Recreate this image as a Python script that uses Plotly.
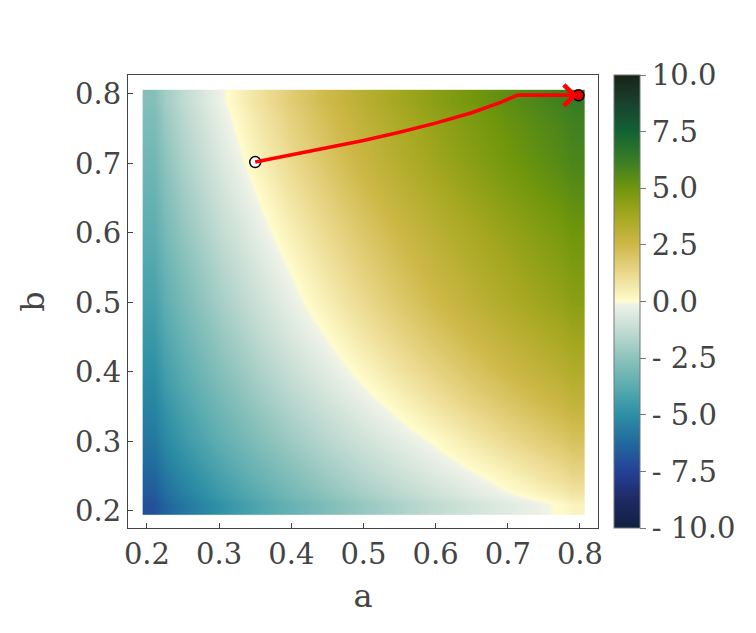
import numpy as np
import plotly.graph_objects as go

# ---- data ----
a_vals = [0.20, 0.25, 0.30, 0.35, 0.40, 0.45, 0.50, 0.55, 0.60, 0.65, 0.70, 0.75, 0.80]
b_vals = [0.20, 0.25, 0.30, 0.35, 0.40, 0.45, 0.50, 0.55, 0.60, 0.65, 0.70, 0.75, 0.80]

z_b020 = [-7.0, -5.84, -4.89, -4.09, -3.40, -2.79, -2.24, -1.75, -1.30, -0.88, -0.50, -0.14, 0.3]
z_b025 = [-6.4, -5.22, -4.25, -3.44, -2.73, -2.11, -1.55, -1.05, -0.59, -0.16, 0.31, 0.81, 1.3]
z_b030 = [-5.8, -4.61, -3.64, -2.82, -2.11, -1.49, -0.93, -0.42, 0.06, 0.62, 1.15, 1.64, 2.1]
z_b035 = [-5.4, -4.18, -3.18, -2.33, -1.60, -0.96, -0.37, 0.19, 0.79, 1.35, 1.87, 2.35, 2.8]
z_b040 = [-5.0, -3.75, -2.73, -1.86, -1.11, -0.45, 0.18, 0.83, 1.42, 1.97, 2.48, 2.95, 3.4]
z_b045 = [-4.65, -3.37, -2.32, -1.44, -0.67, 0.0, 0.72, 1.36, 1.95, 2.49, 2.99, 3.46, 3.9]
z_b050 = [-4.3, -3.00, -1.95, -1.06, -0.28, 0.47, 1.19, 1.84, 2.43, 2.98, 3.49, 3.96, 4.4]
z_b055 = [-4.0, -2.70, -1.64, -0.74, 0.05, 0.84, 1.55, 2.18, 2.77, 3.30, 3.80, 4.26, 4.7]
z_b060 = [-3.7, -2.39, -1.31, -0.41, 0.43, 1.20, 1.90, 2.53, 3.10, 3.63, 4.12, 4.57, 5.0]
z_b065 = [-3.45, -2.11, -1.01, -0.08, 0.80, 1.57, 2.28, 2.91, 3.49, 4.02, 4.51, 4.97, 5.4]
z_b070 = [-3.2, -1.82, -0.70, 0.27, 1.17, 1.95, 2.66, 3.29, 3.87, 4.41, 4.90, 5.36, 5.8]
z_b075 = [-2.95, -1.57, -0.44, 0.55, 1.43, 2.20, 2.90, 3.53, 4.11, 4.63, 5.12, 5.58, 6.0]
z_b080 = [-2.7, -1.32, -0.20, 0.80, 1.70, 2.47, 3.18, 3.81, 4.39, 4.92, 5.41, 5.87, 6.3]

path_a = [0.350, 0.400, 0.450, 0.500, 0.550, 0.600, 0.650, 0.690, 0.713, 0.760, 0.798]
path_b = [0.702, 0.712, 0.722, 0.733, 0.745, 0.758, 0.773, 0.788, 0.798, 0.798, 0.798]

x_ticks = [0.2, 0.3, 0.4, 0.5, 0.6, 0.7, 0.8]
y_ticks = [0.2, 0.3, 0.4, 0.5, 0.6, 0.7, 0.8]
cb_tickvals = [-10, -7.5, -5, -2.5, 0, 2.5, 5, 7.5, 10]
cb_ticktext = ["- 10.0", "- 7.5", "- 5.0", "- 2.5", "0.0", "2.5", "5.0", "7.5", "10.0"]

z = [z_b020, z_b025, z_b030, z_b035, z_b040, z_b045, z_b050,
     z_b055, z_b060, z_b065, z_b070, z_b075, z_b080]

half = 0.006
av = np.array(a_vals)
bv = np.array(b_vals)
x_edges = np.concatenate([[av[0] - half], (av[:-1] + av[1:]) / 2, [av[-1] + half]])
y_edges = np.concatenate([[bv[0] - half], (bv[:-1] + bv[1:]) / 2, [bv[-1] + half]])

delta_scale = [
    [0.000, "rgb(17,32,64)"],
    [0.0625, "rgb(30,42,100)"],
    [0.125, "rgb(36,65,150)"],
    [0.1875, "rgb(33,105,158)"],
    [0.250, "rgb(45,143,165)"],
    [0.3125, "rgb(90,172,176)"],
    [0.375, "rgb(140,195,188)"],
    [0.4375, "rgb(195,220,211)"],
    [0.495, "rgb(240,243,232)"],
    [0.500, "rgb(255,252,205)"],
    [0.5625, "rgb(234,216,140)"],
    [0.625, "rgb(206,184,72)"],
    [0.6875, "rgb(166,168,32)"],
    [0.750, "rgb(112,150,12)"],
    [0.8125, "rgb(55,124,36)"],
    [0.875, "rgb(18,98,52)"],
    [0.9375, "rgb(25,65,45)"],
    [1.000, "rgb(24,35,22)"],
]

FONT = "DejaVu Serif"
TXT = "#444444"

fig = go.Figure()
fig.add_trace(go.Heatmap(
    x=x_edges, y=y_edges, z=z,
    zmin=-10, zmax=10, colorscale=delta_scale, zsmooth="best",
    colorbar=dict(
        x=1.034, xanchor="left", xpad=0, y=0.5, yanchor="middle", len=1.0,
        lenmode="fraction", thickness=26, ypad=0,
        outlinecolor="#777777", outlinewidth=1,
        tickvals=cb_tickvals, ticktext=cb_ticktext,
        ticks="outside", ticklen=6, tickcolor="#777777",
        tickfont=dict(family=FONT, size=29, color=TXT),
    ),
    showscale=True,
))

fig.add_trace(go.Scatter(
    x=[path_a[0]], y=[path_b[0]], mode="markers",
    marker=dict(size=11, color="white", line=dict(color="black", width=1.5)),
    showlegend=False,
))
fig.add_trace(go.Scatter(
    x=path_a, y=path_b, mode="lines",
    line=dict(color="#ff0000", width=3.5),
    showlegend=False,
))
fig.add_annotation(
    x=path_a[-1], y=path_b[-1], ax=path_a[-3], ay=path_b[-3],
    xref="x", yref="y", axref="x", ayref="y",
    showarrow=True, arrowhead=4, arrowsize=1.15, arrowwidth=3.5,
    arrowcolor="#ff0000", standoff=1, text="",
)
fig.add_trace(go.Scatter(
    x=[path_a[-1]], y=[path_b[-1]], mode="markers",
    marker=dict(size=11, color="#e00000", line=dict(color="black", width=1.5)),
    showlegend=False,
))

axis_common = dict(
    showgrid=False, zeroline=False,
    showline=True, linecolor="#444444", linewidth=1, mirror=True,
    ticks="inside", ticklen=5, tickcolor="#444444",
    tickfont=dict(family=FONT, size=29, color=TXT),
)
fig.update_xaxes(range=[0.1737, 0.825], tickvals=x_ticks,
                 ticktext=[f"{v:.1f}" for v in x_ticks],
                 title=dict(text="a", font=dict(family=FONT, size=32, color=TXT), standoff=14),
                 **axis_common)
fig.update_yaxes(range=[0.1755, 0.8273], tickvals=y_ticks,
                 ticktext=[f"{v:.1f}" for v in y_ticks],
                 title=dict(text="b", font=dict(family=FONT, size=32, color=TXT), standoff=20),
                 **axis_common)

fig.update_layout(
    width=748, height=625,
    margin=dict(l=120, r=158, t=67, b=105, autoexpand=False),
    paper_bgcolor="white", plot_bgcolor="white",
    font=dict(family=FONT, color=TXT),
    showlegend=False,
)

fig.write_html("out.html")
